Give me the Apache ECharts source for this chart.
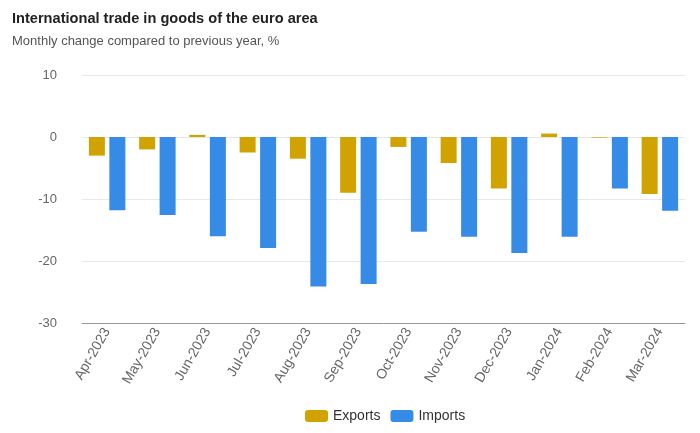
<!DOCTYPE html>
<html>
<head>
<meta charset="utf-8">
<script src="https://cdn.jsdelivr.net/npm/echarts@6/dist/echarts.min.js"></script>
<style>html,body{margin:0;padding:0;background:#fff}#c{width:700px;height:433px}</style>
</head>
<body>
<div id="c"></div>
<script>
const categories = ['Apr-2023','May-2023','Jun-2023','Jul-2023','Aug-2023','Sep-2023','Oct-2023','Nov-2023','Dec-2023','Jan-2024','Feb-2024','Mar-2024'];
const exportsData = [-3.0, -2.0, 0.35, -2.5, -3.5, -9.0, -1.6, -4.2, -8.3, 0.55, -0.1, -9.2];
const importsData = [-11.8, -12.6, -16.0, -17.9, -24.1, -23.7, -15.3, -16.1, -18.7, -16.1, -8.3, -11.9];
const yTicks = { min: -30, max: 10, interval: 10 };

const chart = echarts.init(document.getElementById('c'));
chart.setOption({
  backgroundColor: '#fff',
  animation: false,
  title: [
    { text: 'International trade in goods of the euro area', left: 7, top: 6,
      textStyle: { fontFamily: 'Liberation Sans', fontSize: 14.6, fontWeight: 'bold', color: '#222' } },
    { text: 'Monthly change compared to previous year, %', left: 7, top: 30,
      textStyle: { fontFamily: 'Liberation Sans', fontSize: 13, fontWeight: 'normal', color: '#555' } }
  ],
  legend: {
    bottom: 5, left: 300,
    itemWidth: 23, itemHeight: 12, itemGap: 10,
    icon: 'roundRect',
    textStyle: { fontFamily: 'Liberation Sans', fontSize: 14, color: '#333' },
    data: ['Exports', 'Imports']
  },
  grid: { left: 82, right: 15, top: 75, bottom: 110, containLabel: false },
  xAxis: {
    type: 'category', data: categories,
    axisLine: { onZero: false, lineStyle: { color: '#999' } },
    axisTick: { alignWithLabel: true, lineStyle: { color: '#999' } },
    axisLabel: { rotate: 60, interval: 0, fontFamily: 'Liberation Sans', fontSize: 14, color: '#666', margin: 6 }
  },
  yAxis: {
    type: 'value', min: yTicks.min, max: yTicks.max, interval: yTicks.interval,
    axisLine: { show: false }, axisTick: { show: false },
    splitLine: { lineStyle: { color: '#e8e8e8' } },
    axisLabel: { fontFamily: 'Liberation Sans', fontSize: 13, color: '#666', margin: 25 }
  },
  series: [
    { name: 'Exports', type: 'bar', data: exportsData, barWidth: 16, barGap: '28%',
      itemStyle: { color: '#d1a300' } },
    { name: 'Imports', type: 'bar', data: importsData, barWidth: 16,
      itemStyle: { color: '#368be6' } }
  ]
});
</script>
</body>
</html>
